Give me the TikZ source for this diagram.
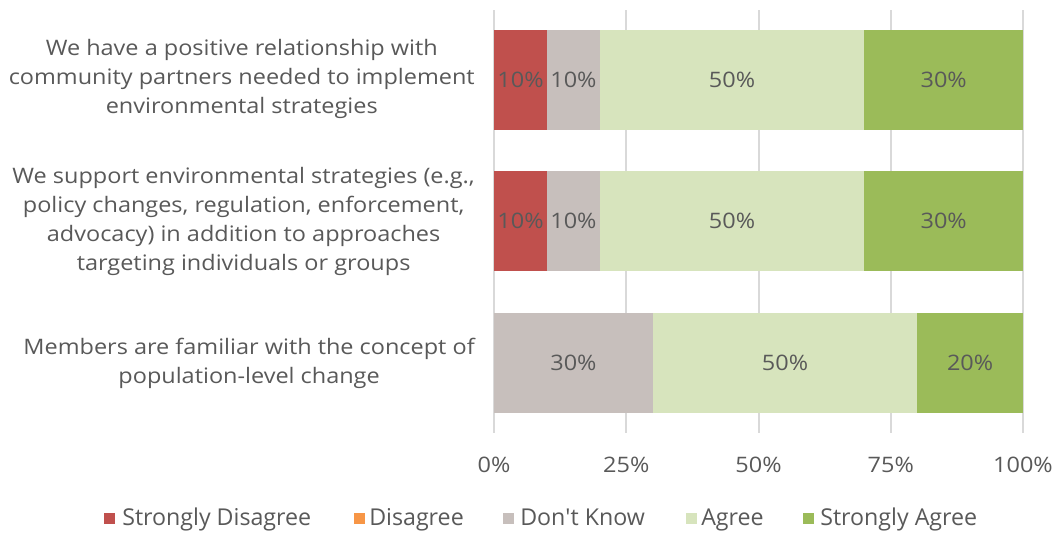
\documentclass[tikz,border=0pt]{standalone}
\usepackage{fontspec}
\setmainfont{Open Sans}
\newfontfamily\widefont[FakeStretch=1.1]{Open Sans}
\definecolor{sdis}{HTML}{C0504D}
\definecolor{dis}{HTML}{F79646}
\definecolor{dk}{HTML}{C7BFBC}
\definecolor{agr}{HTML}{D7E4BD}
\definecolor{sagr}{HTML}{9BBB59}
\definecolor{txt}{HTML}{595959}
\definecolor{grid}{HTML}{D9D9D9}
\begin{document}
\begin{tikzpicture}[x=0.75pt,y=-0.75pt,
  val/.style={text=txt,font=\widefont\fontsize{16}{18}\selectfont,inner sep=0pt},
  cat/.style={text=txt,font=\widefont\fontsize{16}{21.75}\selectfont,align=center,anchor=east,inner sep=0pt},
  tick/.style={text=txt,font=\widefont\fontsize{16}{18}\selectfont,inner sep=0pt},
  leg/.style={text=txt,font=\fontsize{17.4}{18}\selectfont,anchor=base west,inner sep=0pt},
  sq/.style={minimum size=8.25pt,inner sep=0pt,draw=none}]
\useasboundingbox[fill=white] (0,0) rectangle (1059,533);
% grid
\foreach \i/\x in {0/494,1/626.25,2/758.5,3/890.75,4/1023}{
  \draw[grid,line width=1.5pt] (\x,10) -- (\x,433);
}
% bar 1
\fill[sdis] (494,30) rectangle (546.9,130);
\fill[dk] (546.9,30) rectangle (599.8,130);
\fill[agr] (599.8,30) rectangle (864.3,130);
\fill[sagr] (864.3,30) rectangle (1023,130);
\node[val] (b1a) at (520.5,80) {10\%};
\node[val] (b1b) at (573.4,80) {10\%};
\node[val] (b1c) at (732,80) {50\%};
\node[val] (b1d) at (943.7,80) {30\%};
% bar 2
\fill[sdis] (494,171) rectangle (546.9,271);
\fill[dk] (546.9,171) rectangle (599.8,271);
\fill[agr] (599.8,171) rectangle (864.3,271);
\fill[sagr] (864.3,171) rectangle (1023,271);
\node[val] (b2a) at (520.5,221) {10\%};
\node[val] (b2b) at (573.4,221) {10\%};
\node[val] (b2c) at (732,221) {50\%};
\node[val] (b2d) at (943.7,221) {30\%};
% bar 3
\fill[dk] (494,313) rectangle (652.7,413);
\fill[agr] (652.7,313) rectangle (917.2,413);
\fill[sagr] (917.2,313) rectangle (1023,413);
\node[val] (b3a) at (573.4,363) {30\%};
\node[val] (b3b) at (785,363) {50\%};
\node[val] (b3c) at (970.1,363) {20\%};
% categories
\node[cat] (c1) at (475,79) {We have a positive relationship with\\community partners needed to implement\\environmental strategies};
\node[cat] (c2) at (475,221) {We support environmental strategies (e.g.,\\policy changes, regulation, enforcement,\\advocacy) in addition to approaches\\targeting individuals or groups};
\node[cat] (c3) at (475,363) {Members are familiar with the concept of\\population-level change};
% ticks
\node[tick] (t0) at (494,465) {0\%};
\node[tick] (t1) at (626.25,465) {25\%};
\node[tick] (t2) at (758.5,465) {50\%};
\node[tick] (t3) at (890.75,465) {75\%};
\node[tick] (t4) at (1023,465) {100\%};
% legend
\node[sq,fill=sdis] (l1) at (109,518) {};
\node[leg] (lt1) at (122,525) {Strongly Disagree};
\node[sq,fill=dis] (l2) at (359,518) {};
\node[leg] (lt2) at (369,525) {Disagree};
\node[sq,fill=dk] (l3) at (508,518) {};
\node[leg] (lt3) at (520,525) {Don\textquotesingle t Know};
\node[sq,fill=agr] (l4) at (691,518) {};
\node[leg] (lt4) at (701,525) {Agree};
\node[sq,fill=sagr] (l5) at (808,518) {};
\node[leg] (lt5) at (820,525) {Strongly Agree};
\end{tikzpicture}
\end{document}
